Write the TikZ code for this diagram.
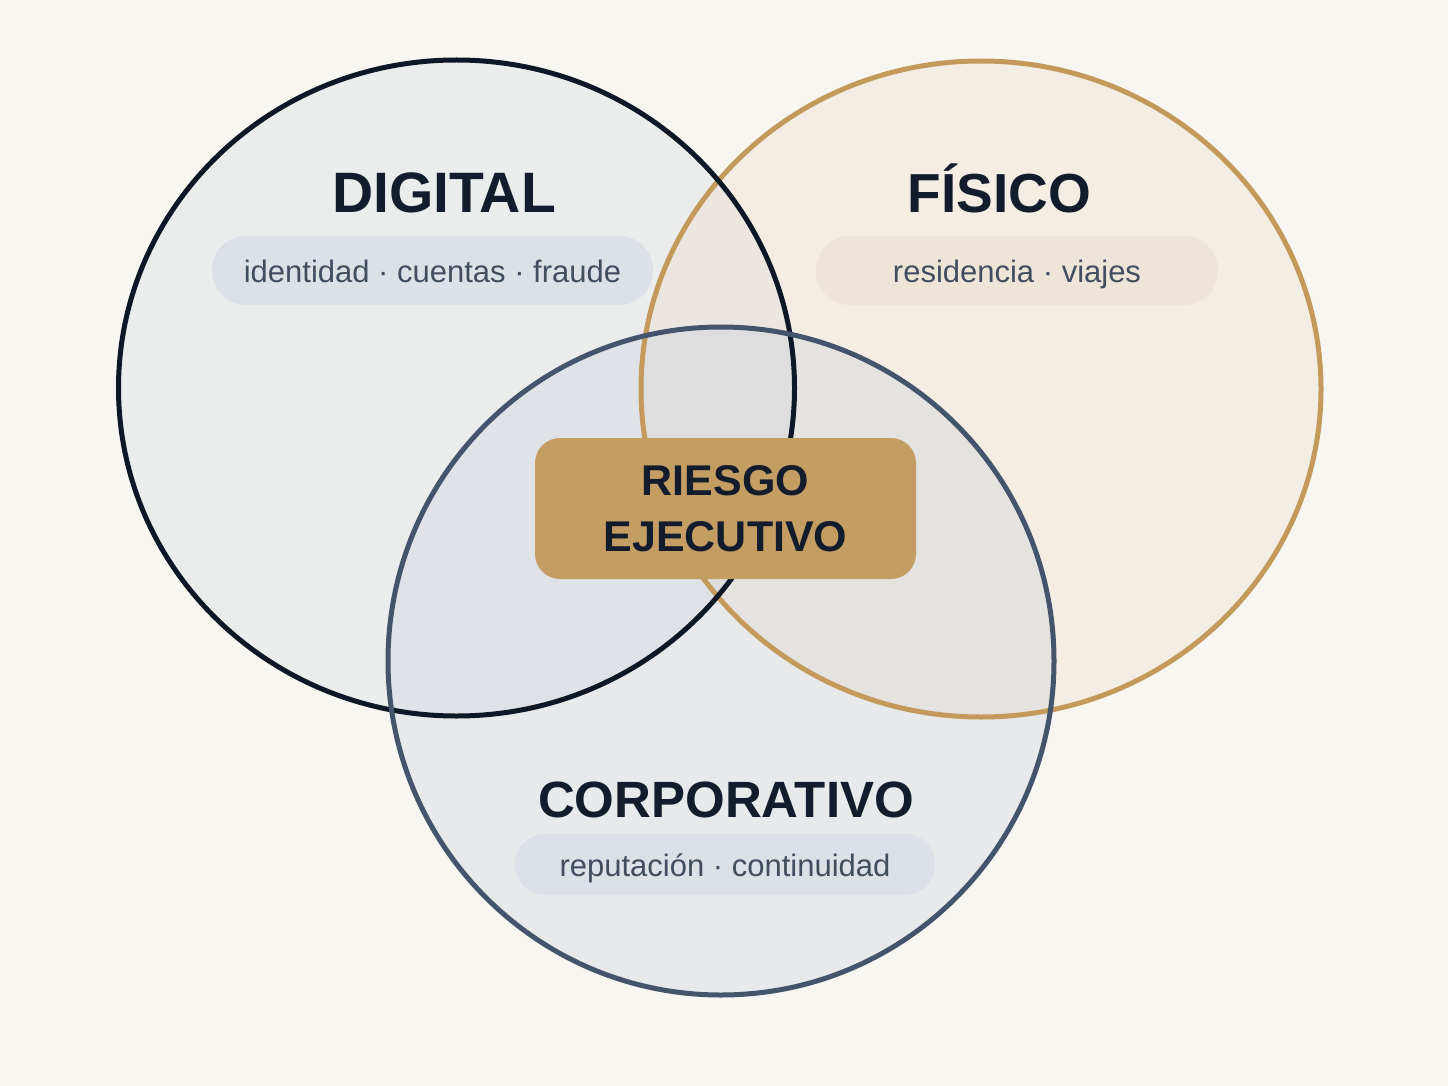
\documentclass[tikz,border=0pt]{standalone}
\usepackage{fontspec}
\setmainfont{Liberation Sans}
\usepackage{xcolor}
\usetikzlibrary{shapes.geometric}

\definecolor{paper}{HTML}{F7F6F1}
\definecolor{ink}{HTML}{121C2C}
\definecolor{slate}{HTML}{424E60}
\definecolor{digitalline}{HTML}{0E1726}
\definecolor{digitalfill}{HTML}{D2D8E1}
\definecolor{fisicoline}{HTML}{C49A5C}
\definecolor{fisicofill}{HTML}{EDDBC3}
\definecolor{corpline}{HTML}{44546C}
\definecolor{corpfill}{HTML}{C4CCDC}
\definecolor{bluepill}{HTML}{DCE0E7}
\definecolor{sandpill}{HTML}{EEE5D9}
\definecolor{gold}{HTML}{C49D63}

\begin{document}
\begin{tikzpicture}[x=1pt,y=-1pt]
\tikzstyle{zone} = [ellipse, inner sep=0pt, fill opacity=0.3]
\tikzstyle{rim} = [line width=5pt]
\tikzstyle{title} = [anchor=base, text=ink, font=\fontsize{55}{60}\selectfont\bfseries]
\tikzstyle{tags} = [rectangle, inner sep=0pt, text height=23pt, text depth=0pt, text=slate, font=\fontsize{31}{36}\selectfont]
\tikzstyle{core} = [rectangle, rounded corners=25pt, minimum width=381pt, minimum height=141pt, fill=gold, text=ink, align=center, font=\fontsize{43}{56}\selectfont\bfseries]

% Background
\fill[paper] (0,0) rectangle (1448,1086);
\useasboundingbox (0,0) rectangle (1448,1086);

% Risk zones
\node (digital) [zone, fill=digitalfill, minimum width=676pt, minimum height=656pt] at (456.5,388) {};
\node (fisico) [zone, fill=fisicofill, minimum width=680pt, minimum height=656pt] at (981,389) {};
\node (corp) [zone, fill=corpfill, minimum width=666pt, minimum height=668pt] at (721,661) {};

% Zone outlines
\draw[rim, fisicoline] (fisico.center) ellipse [x radius=340pt, y radius=328pt];
\draw[rim, digitalline] (digital.center) ellipse [x radius=338pt, y radius=328pt];
\draw[rim, corpline] (corp.center) ellipse [x radius=333pt, y radius=334pt];

% Zone titles
\node (digitaltitle) [title, font=\fontsize{57}{60}\selectfont\bfseries] at (444,212) {DIGITAL};
\node (fisicotitle) [title] at (999.5,212) {FÍSICO};
\node (corptitle) [title, font=\fontsize{51}{60}\selectfont\bfseries] at (726,817) {CORPORATIVO};

% Tag pills
\node (digitaltags) [tags, fill=bluepill, rounded corners=34pt, minimum width=441pt, minimum height=69pt] at (432.5,270.5) {identidad · cuentas · fraude};
\node (fisicotags) [tags, fill=sandpill, rounded corners=34pt, minimum width=402pt, minimum height=69pt] at (1017,270.5) {residencia · viajes};
\node (corptags) [tags, fill=bluepill, rounded corners=30pt, minimum width=420pt, minimum height=61pt] at (725,864.5) {reputación · continuidad};

% Centre
\node (riesgo) [core] at (725.5,508.5) {RIESGO\\EJECUTIVO};

\end{tikzpicture}
\end{document}
